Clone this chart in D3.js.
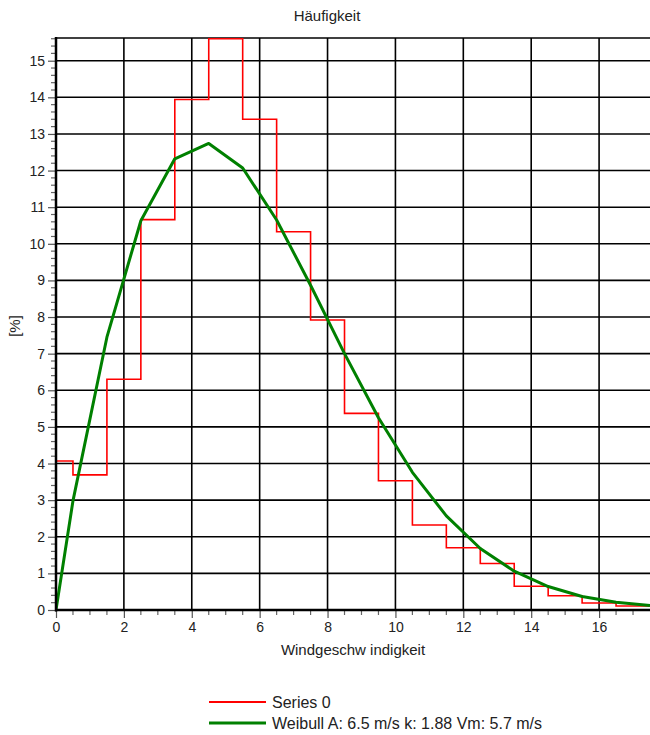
<!DOCTYPE html>
<html><head><meta charset="utf-8">
<script src="https://cdn.jsdelivr.net/npm/d3@7"></script>
<style>
html,body{margin:0;padding:0;background:#fff;}
svg{display:block;font-family:"Liberation Sans",Arial,sans-serif;}
</style></head>
<body><svg id="c" width="650" height="735"></svg>
<script>
// Bin edges (m/s) and observed frequency (%) per bin
const binEdges = [0,0.5,1.5,2.5,3.5,4.5,5.5,6.5,7.5,8.5,9.5,10.5,11.5,12.5,13.5,14.5,15.5,16.5,17.5];
const freq = [4.07,3.69,6.3,10.66,13.94,15.6,13.4,10.33,7.92,5.37,3.53,2.32,1.7,1.27,0.65,0.39,0.19,0.11];
// Weibull fit points
const weibullX = [0,0.5,1.5,2.5,3.5,4.5,5.5,6.5,7.5,8.5,9.5,10.5,11.5,12.5,13.5,14.5,15.5,16.5,17.5];
const weibullY = [0,2.98,7.45,10.63,12.32,12.74,12.07,10.65,8.87,7.0,5.25,3.76,2.57,1.68,1.06,0.64,0.37,0.21,0.12];
const xTicks = [0,2,4,6,8,10,12,14,16];
const yTicks = [0,1,2,3,4,5,6,7,8,9,10,11,12,13,14,15];
const title = "Häufigkeit";
const xLabel = "Windgeschw indigkeit";
const yLabel = "[%]";
const legendNames = ["Series 0","Weibull A: 6.5 m/s k: 1.88 Vm: 5.7 m/s"];
const colors = ["#ff0000","#008000"];

const L=56, R=650, T=38, B=610;
const x = d3.scaleLinear().domain([0,17.5]).range([L,R]);
const y = d3.scaleLinear().domain([0,15.62]).range([B,T]);
const svg = d3.select("#c");

svg.append("defs").append("clipPath").attr("id","clip")
  .append("rect").attr("x",L).attr("y",T-2).attr("width",R-L).attr("height",B-T+2);

// grid
const g = svg.append("g");
g.selectAll("line.v").data(xTicks.filter(d=>d>0)).enter().append("line")
  .attr("x1",d=>x(d)).attr("x2",d=>x(d)).attr("y1",T).attr("y2",B)
  .attr("stroke","#000").attr("stroke-width",1.6);
g.selectAll("line.h").data(yTicks.filter(d=>d>0)).enter().append("line")
  .attr("x1",L).attr("x2",R).attr("y1",d=>y(d)).attr("y2",d=>y(d))
  .attr("stroke","#000").attr("stroke-width",1.6);
// top border
g.append("line").attr("x1",L).attr("x2",R).attr("y1",T).attr("y2",T)
  .attr("stroke","#000").attr("stroke-width",1.6);

// step series
const stepPts = binEdges.map((e,i)=>[e, freq[Math.min(i,freq.length-1)]]);
svg.append("path").attr("clip-path","url(#clip)")
  .attr("d", d3.line().x(d=>x(d[0])).y(d=>y(d[1])).curve(d3.curveStepAfter)(stepPts))
  .attr("fill","none").attr("stroke",colors[0]).attr("stroke-width",1.6);

// weibull
svg.append("path").attr("clip-path","url(#clip)")
  .attr("d", d3.line().x((d,i)=>x(weibullX[i])).y(d=>y(d))(weibullY))
  .attr("fill","none").attr("stroke",colors[1]).attr("stroke-width",3).attr("stroke-linejoin","round");

// axes
const xAxis = d3.axisBottom(x).tickValues(xTicks).tickSize(8).tickPadding(4).tickFormat(d3.format("d"));
const gx = svg.append("g").attr("transform",`translate(0,${B})`).call(xAxis);
gx.select(".domain").remove();
gx.selectAll(".tick line").attr("stroke","#555").attr("stroke-width",1.2);
gx.selectAll("text").attr("font-size",14).attr("fill","#222").attr("font-family","Liberation Sans, Arial");
const xMinor = d3.range(0.5,17.5,0.5).filter(v=>v%2!==0);
svg.append("g").selectAll("line").data(xMinor).enter().append("line")
  .attr("x1",d=>x(d)).attr("x2",d=>x(d)).attr("y1",B).attr("y2",B+5)
  .attr("stroke","#666").attr("stroke-width",1.2);

const yAxis = d3.axisLeft(y).tickValues(yTicks).tickSize(8).tickPadding(3).tickFormat(d3.format("d"));
const gy = svg.append("g").attr("transform",`translate(${L},0)`).call(yAxis);
gy.select(".domain").remove();
gy.selectAll(".tick line").attr("stroke","#555").attr("stroke-width",1.2);
gy.selectAll("text").attr("font-size",14).attr("fill","#222").attr("font-family","Liberation Sans, Arial");
const yMinor = d3.range(1,79).map(i=>i*0.2).filter(v=>Math.abs(v-Math.round(v))>1e-6 && v<=15.62);
svg.append("g").selectAll("line").data(yMinor).enter().append("line")
  .attr("x1",L-5).attr("x2",L).attr("y1",d=>y(d)).attr("y2",d=>y(d))
  .attr("stroke","#666").attr("stroke-width",1.2);

// axis lines
svg.append("line").attr("x1",L).attr("x2",L).attr("y1",T-1).attr("y2",B+1.5).attr("stroke","#000").attr("stroke-width",2.5);
svg.append("line").attr("x1",L-1).attr("x2",R).attr("y1",B).attr("y2",B).attr("stroke","#000").attr("stroke-width",2.5);

// texts
svg.append("text").attr("x",327).attr("y",21).attr("text-anchor","middle")
  .attr("font-size",15).attr("fill","#222").text(title);
svg.append("text").attr("x",353).attr("y",655).attr("text-anchor","middle")
  .attr("font-size",15).attr("fill","#222").text(xLabel);
svg.append("text").attr("transform","translate(20,326) rotate(-90)").attr("text-anchor","middle")
  .attr("font-size",15).attr("fill","#222").text(yLabel);

// legend
const lg = svg.append("g");
legendNames.forEach((n,i)=>{
  const yy = 702 + i*21;
  lg.append("line").attr("x1",209).attr("x2",266).attr("y1",yy).attr("y2",yy)
    .attr("stroke",colors[i]).attr("stroke-width",i===0?1.8:3.2);
  lg.append("text").attr("x",272).attr("y",yy+5.5).attr("font-size",16).attr("fill","#222").text(n);
});
</script></body></html>
